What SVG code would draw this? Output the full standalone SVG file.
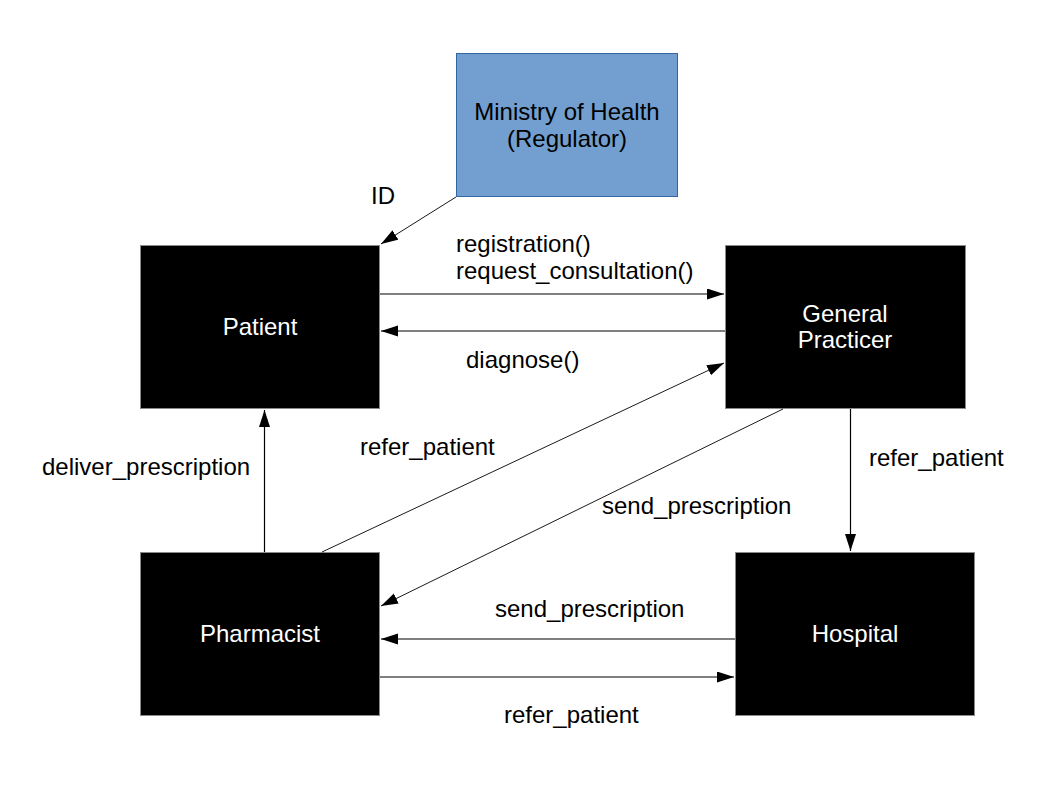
<svg xmlns="http://www.w3.org/2000/svg" width="1058" height="794" viewBox="0 0 1058 794">
<style>
.node{fill:#000;stroke:#8a8a8a;stroke-width:1}
.reg{fill:#729fcf;stroke:#3465a4;stroke-width:1}
.nt{font-family:"Liberation Sans",Arial,sans-serif;font-size:24px;fill:#fff;text-anchor:middle}
.rt{font-family:"Liberation Sans",Arial,sans-serif;font-size:24px;fill:#000;text-anchor:middle}
.lbl{font-family:"Liberation Sans",Arial,sans-serif;font-size:24px;fill:#000}
.c{stroke:#000;stroke-width:1.2;fill:none;marker-end:url(#ah)}
.d{stroke:#000;stroke-width:0.9;fill:none;marker-end:url(#ah)}
</style>
<defs>
<marker id="ah" markerUnits="userSpaceOnUse" markerWidth="18" markerHeight="12" refX="17" refY="5.5" orient="auto">
<path d="M0,0 L17,5.5 L0,11 z" fill="#000"/>
</marker>
</defs>
<rect width="1058" height="794" fill="#fff"/>
<g id="ministry">
<rect class="reg" x="456.5" y="53.5" width="221" height="143"/>
<text class="rt" x="567" y="120">Ministry of Health</text>
<text class="rt" x="567" y="147">(Regulator)</text>
</g>
<g id="patient">
<rect class="node" x="140.5" y="245.5" width="239" height="163"/>
<text class="nt" x="260" y="335">Patient</text>
</g>
<g id="gp">
<rect class="node" x="725.5" y="245.5" width="240" height="163"/>
<text class="nt" x="845" y="322">General</text>
<text class="nt" x="845" y="348">Practicer</text>
</g>
<g id="pharmacist">
<rect class="node" x="140.5" y="552.5" width="239" height="163"/>
<text class="nt" x="260" y="642">Pharmacist</text>
</g>
<g id="hospital">
<rect class="node" x="735.5" y="552.5" width="239" height="163"/>
<text class="nt" x="855" y="642">Hospital</text>
</g>
<g id="connectors">
<line class="d" x1="456" y1="197" x2="381" y2="244"/>
<line class="c" x1="380" y1="294" x2="724" y2="294"/>
<line class="c" x1="725" y1="331" x2="381" y2="331"/>
<line class="d" x1="322" y1="552" x2="724" y2="363"/>
<line class="d" x1="783" y1="409" x2="381" y2="606"/>
<line class="c" x1="850.5" y1="409" x2="850.5" y2="551"/>
<line class="c" x1="735" y1="639" x2="381" y2="639"/>
<line class="c" x1="380" y1="677" x2="734" y2="677"/>
<line class="c" x1="264.5" y1="552" x2="264.5" y2="410"/>
</g>
<g id="labels">
<text class="lbl" x="371" y="204">ID</text>
<text class="lbl" x="456" y="252">registration()</text>
<text class="lbl" x="456" y="279">request_consultation()</text>
<text class="lbl" x="466" y="368">diagnose()</text>
<text class="lbl" x="360" y="455">refer_patient</text>
<text class="lbl" x="602" y="514">send_prescription</text>
<text class="lbl" x="869" y="466">refer_patient</text>
<text class="lbl" x="495" y="617">send_prescription</text>
<text class="lbl" x="504" y="723">refer_patient</text>
<text class="lbl" x="42" y="475">deliver_prescription</text>
</g>
</svg>
